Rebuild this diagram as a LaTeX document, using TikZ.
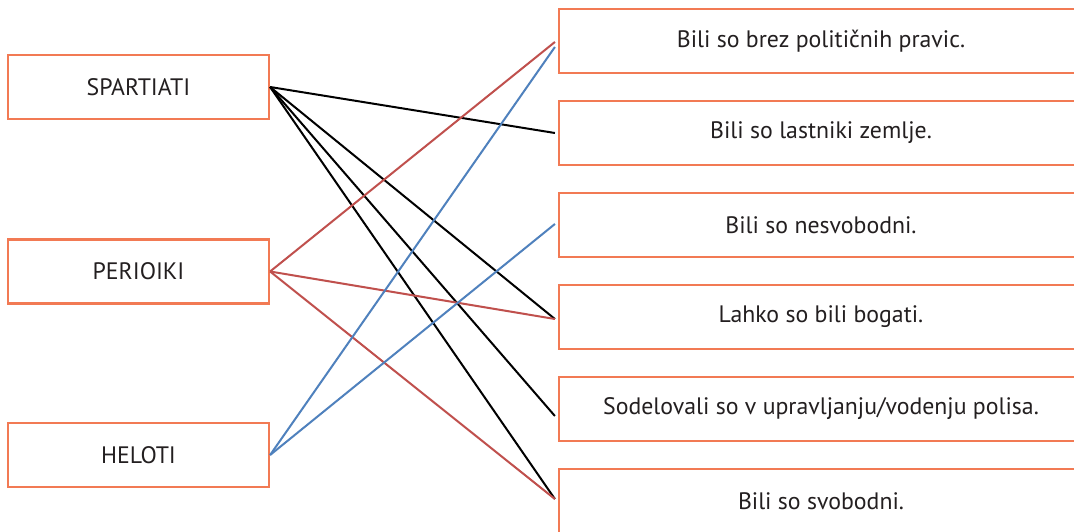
\documentclass[tikz,border=0pt]{standalone}
\usepackage{fontspec}
\setmainfont{PT Sans}
\definecolor{boxorange}{RGB}{242,122,84}
\definecolor{linered}{RGB}{192,80,77}
\definecolor{lineblue}{RGB}{79,129,189}
\definecolor{textdark}{RGB}{35,31,32}
\begin{document}
\begin{tikzpicture}[x=1pt,y=-1pt, font=\fontsize{23.8}{27}\selectfont, text=textdark]
            \clip (0,0) rectangle (1074,532);
            \fill[white] (0,0) rectangle (1074,532);
            \begin{scope}[every node/.style={rectangle, draw=boxorange, line width=2.2pt, minimum height=64pt, inner sep=0pt}]

                \node[minimum width=261pt] (spart) at (138.5,87) {SPARTIATI};
                \node[minimum width=261pt] (perio) at (138.5,271.5) {PERIOIKI};
                \node[minimum width=261pt] (helot) at (138.5,455) {HELOTI};

                \node[minimum width=524pt] (1r) at (821,41) {Bili so brez političnih pravic.};
                \node[minimum width=524pt] (2r) at (821,133) {Bili so lastniki zemlje.};
                \node[minimum width=524pt] (3r) at (821,225) {Bili so nesvobodni.};
                \node[minimum width=524pt] (4r) at (821,317) {Lahko so bili bogati.};
                \node[minimum width=524pt] (5r) at (821,409) {Sodelovali so v upravljanju/vodenju polisa.};
                \node[minimum width=524pt] (6r) at (821,501) {Bili so svobodni.};

            \end{scope}

            \path[black, line width=2pt] (spart.east) edge ([xshift=-3pt]2r.west);
            \path[black, line width=2pt] (spart.east) edge ([xshift=-3pt, yshift=-2pt]4r.west);
            \path[black, line width=2pt] (spart.east) edge ([xshift=-3pt, yshift=-7pt]5r.west);
            \path[black, line width=2pt] (spart.east) edge ([xshift=-3pt, yshift=2pt]6r.west);
            \path[linered, line width=2pt] (perio.east) edge ([xshift=-3pt, yshift=-1pt]1r.west);
            \path[linered, line width=2pt] (perio.east) edge ([xshift=-3pt, yshift=-2pt]4r.west);
            \path[linered, line width=2pt] (perio.east) edge ([xshift=-3pt, yshift=2pt]6r.west);
            \path[lineblue, line width=2pt] (helot.east) edge ([xshift=-3pt, yshift=-6pt]1r.west);
            \path[lineblue, line width=2pt] (helot.east) edge ([xshift=-3pt, yshift=1pt]3r.west);
        \end{tikzpicture}
\end{document}
